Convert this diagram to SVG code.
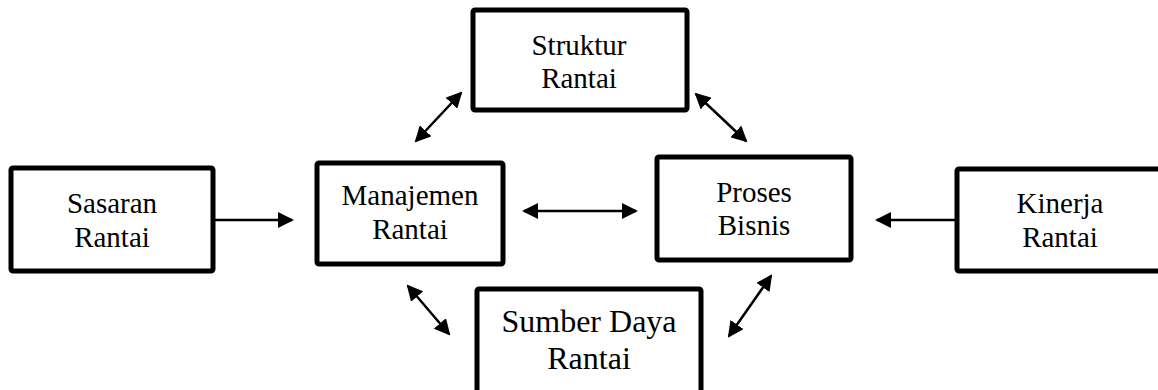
<svg xmlns="http://www.w3.org/2000/svg" width="1158" height="390" viewBox="0 0 1158 390">
<style>
.box{fill:#fff;stroke:#000;stroke-width:5;stroke-linejoin:round}
.lbl{font-family:"Liberation Serif","Times New Roman",serif;font-size:29px;fill:#000;text-anchor:middle}
.big{font-size:32px}
.con{stroke:#000;stroke-width:2.5;fill:none}
</style>
<defs>
<marker id="ah" markerUnits="userSpaceOnUse" viewBox="0 0 16 16" refX="14" refY="8" markerWidth="16" markerHeight="16" orient="auto-start-reverse">
<path d="M0,0 L16,8 L0,16 Z" fill="#000"/>
</marker>
</defs>
<g id="struktur">
<rect class="box" x="473" y="10" width="214" height="100" rx="2"/>
<text class="lbl" x="579" y="55">Struktur</text>
<text class="lbl" x="579" y="88">Rantai</text>
</g>
<g id="sasaran">
<rect class="box" x="11" y="168" width="202" height="103" rx="2"/>
<text class="lbl" x="112" y="213">Sasaran</text>
<text class="lbl" x="112" y="247">Rantai</text>
</g>
<g id="manajemen">
<rect class="box" x="317" y="163" width="186" height="101" rx="2"/>
<text class="lbl" x="410" y="205">Manajemen</text>
<text class="lbl" x="410" y="239">Rantai</text>
</g>
<g id="proses">
<rect class="box" x="657" y="157" width="194" height="103" rx="2"/>
<text class="lbl" x="754" y="202">Proses</text>
<text class="lbl" x="754" y="235">Bisnis</text>
</g>
<g id="kinerja">
<rect class="box" x="957" y="169" width="230" height="102" rx="2"/>
<text class="lbl" x="1060" y="213">Kinerja</text>
<text class="lbl" x="1060" y="247">Rantai</text>
</g>
<g id="sumber">
<rect class="box" x="477" y="289" width="224" height="130" rx="2"/>
<text class="lbl big" x="589" y="332">Sumber Daya</text>
<text class="lbl big" x="589" y="369">Rantai</text>
</g>
<g id="connectors">
<line class="con" x1="213" y1="220" x2="292" y2="220" marker-end="url(#ah)"/>
<line class="con" x1="524" y1="211" x2="636" y2="211" marker-start="url(#ah)" marker-end="url(#ah)"/>
<line class="con" x1="957" y1="220" x2="877" y2="220" marker-end="url(#ah)"/>
<line class="con" x1="461" y1="93" x2="416" y2="141" marker-start="url(#ah)" marker-end="url(#ah)"/>
<line class="con" x1="696" y1="94" x2="746" y2="141" marker-start="url(#ah)" marker-end="url(#ah)"/>
<line class="con" x1="408" y1="286" x2="449" y2="334" marker-start="url(#ah)" marker-end="url(#ah)"/>
<line class="con" x1="771" y1="276" x2="729" y2="336" marker-start="url(#ah)" marker-end="url(#ah)"/>
</g>
</svg>
